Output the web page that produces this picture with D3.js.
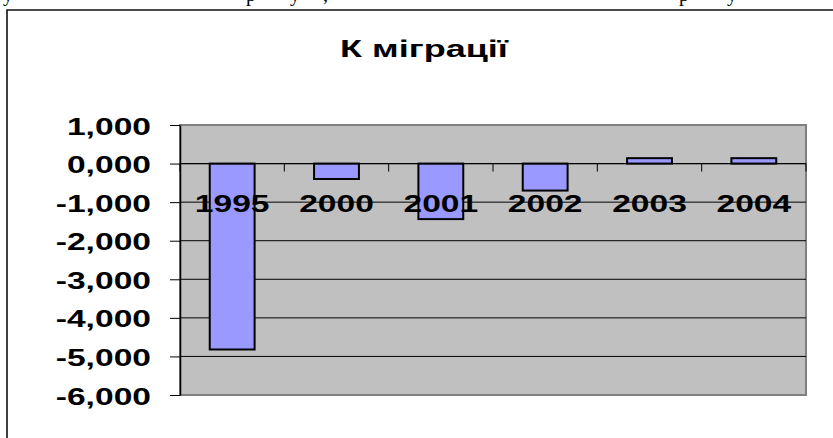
<!DOCTYPE html>
<html>
<head>
<meta charset="utf-8">
<script src="https://cdn.jsdelivr.net/npm/d3@7"></script>
<style>
body { margin:0; background:#fff; }
svg { display:block; }
</style>
</head>
<body>
<div class="home"></div>
<script>
// chart data
var years = ["1995", "2000", "2001", "2002", "2003", "2004"];
var values = [-4.82, -0.40, -1.44, -0.70, 0.14, 0.14];
var yTicks = [1, 0, -1, -2, -3, -4, -5, -6];
var title = "К міграції";

var W = 833, H = 438;
var pLeft = 180, pRight = 806, pTop = 125, pBottom = 395;
var sx = 1.4; // text is stretched sideways in the original

var svg = d3.select(".home")
        .append('svg')
        .attr('width', W)
        .attr('height', H)
        .style('font-family', 'Liberation Sans, Arial, sans-serif')

var locale = d3.formatLocale({decimal: ",", thousands: " ", grouping: [3], currency: ["", ""], minus: "-"});
var fmt = locale.format(".3f");

var x = d3.scaleBand().domain(years).range([pLeft, pRight]);
var y = d3.scaleLinear().domain([-6, 1]).range([pBottom, pTop]);

// bits of the text line above, cut off by the page
var cut = [["у", 3], ["р", 246], ["у", 290], [",", 323], ["р", 679], ["у", 727]];
svg.selectAll('text.cut')
    .data(cut)
    .enter().append('text')
    .attr('class', 'cut')
    .attr('x', function(d){ return d[1]; })
    .attr('y', 1)
    .style('font-family', 'Liberation Serif, Times New Roman, serif')
    .style('font-size', '20px')
    .text(function(d){ return d[0]; })

// chart frame
svg.append('path')
    .attr('d', 'M7,' + H + 'V10H' + W)
    .attr('fill', 'none')
    .attr('stroke', '#111')
    .attr('stroke-width', 1.6)

// title
svg.append('text')
    .attr('transform', 'translate(424,57) scale(1.5,1)')
    .attr('text-anchor', 'middle')
    .style('font-size', '24px')
    .style('font-weight', 'bold')
    .text(title)

// plot area
svg.append('rect')
    .attr('x', pLeft)
    .attr('y', pTop)
    .attr('width', pRight - pLeft)
    .attr('height', pBottom - pTop)
    .attr('fill', '#c0c0c0')
    .attr('stroke', '#808080')
    .attr('stroke-width', 2)

// gridlines
svg.selectAll('line.grid')
    .data(yTicks.filter(function(d){ return d != 1 && d != -6; }))
    .enter().append('line')
    .attr('class', 'grid')
    .attr('x1', pLeft)
    .attr('x2', pRight)
    .attr('y1', function(d){ return y(d); })
    .attr('y2', function(d){ return y(d); })
    .attr('stroke', '#000')
    .attr('stroke-width', 1)

// bars
svg.selectAll('rect.bar')
    .data(values)
    .enter().append('rect')
    .attr('class', 'bar')
    .attr('x', function(d, i){ return x(years[i]) + x.bandwidth() * 0.285; })
    .attr('width', x.bandwidth() * 0.43)
    .attr('y', function(d){ return y(Math.max(0, d)); })
    .attr('height', function(d){ return Math.abs(y(d) - y(0)); })
    .attr('fill', '#9999ff')
    .attr('stroke', '#000')
    .attr('stroke-width', 2)

// y axis
var yAxis = svg.append('g')
    .attr('transform', 'translate(' + pLeft + ',0)')
    .call(d3.axisLeft(y).tickValues(yTicks).tickSize(10).tickSizeOuter(0).tickFormat(fmt))
yAxis.select('.domain').attr('stroke', '#000').attr('stroke-width', 1.5)
yAxis.selectAll('.tick line').attr('stroke', '#000')
yAxis.selectAll('.tick text')
    .attr('x', null)
    .attr('dy', null)
    .attr('transform', 'translate(-29,9) scale(' + sx + ',1)')
    .attr('fill', '#000')
    .style('font-family', 'Liberation Sans, Arial, sans-serif')
    .style('font-size', '24px')
    .style('font-weight', 'bold')

// x axis on the zero line, ticks between categories
var xb = years.map(function(d){ return x(d); }).concat([pRight]);
svg.append('line')
    .attr('x1', pLeft)
    .attr('x2', pRight)
    .attr('y1', y(0))
    .attr('y2', y(0))
    .attr('stroke', '#000')
    .attr('stroke-width', 1.2)
svg.selectAll('line.xtick')
    .data(xb)
    .enter().append('line')
    .attr('class', 'xtick')
    .attr('x1', function(d){ return d; })
    .attr('x2', function(d){ return d; })
    .attr('y1', y(0))
    .attr('y2', y(0) + 8)
    .attr('stroke', '#000')

svg.selectAll('text.cat')
    .data(years)
    .enter().append('text')
    .attr('class', 'cat')
    .attr('transform', function(d){ return 'translate(' + (x(d) + x.bandwidth() / 2) + ',' + (y(0) + 48) + ') scale(' + sx + ',1)'; })
    .attr('text-anchor', 'middle')
    .style('font-size', '24px')
    .style('font-weight', 'bold')
    .text(function(d){ return d; })
</script>
</body>
</html>
